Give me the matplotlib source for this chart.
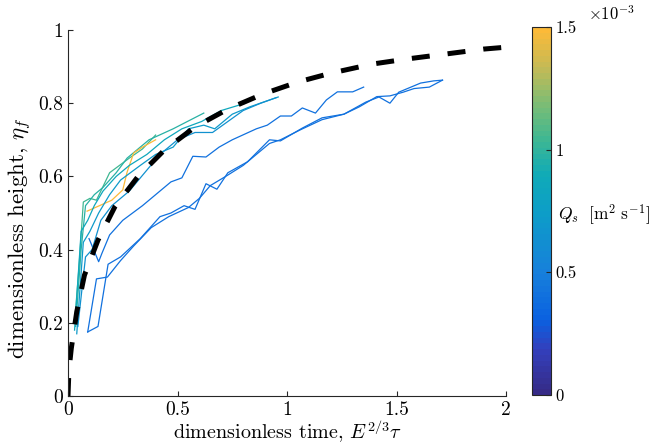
import numpy as np
import matplotlib
matplotlib.use('Agg')
import matplotlib.pyplot as plt
from matplotlib.colors import LinearSegmentedColormap, Normalize
from matplotlib.cm import ScalarMappable

plt.rcParams['font.family'] = 'serif'
plt.rcParams['font.serif'] = ['cmr10', 'DejaVu Serif']
plt.rcParams['mathtext.fontset'] = 'cm'
plt.rcParams['axes.unicode_minus'] = False

# experiments: sediment flux Qs and (tau, eta_f) traces
qs = [0.4e-3, 0.4e-3, 0.42e-3, 1.05e-3, 0.98e-3, 1.5e-3, 0.85e-3, 0.72e-3, 0.65e-3]
tau = [
    [0.09, 0.137, 0.183, 0.24, 0.33, 0.42, 0.47, 0.53, 0.58, 0.63, 0.68, 0.73, 0.82, 0.92, 0.97, 1.07, 1.16,
     1.26, 1.36, 1.42, 1.47, 1.51, 1.61, 1.67, 1.71],
    [0.09, 0.13, 0.18, 0.24, 0.30, 0.38, 0.46, 0.55, 0.60, 0.65, 0.72, 0.80, 0.86, 0.92, 0.97, 1.06, 1.16,
     1.26, 1.33, 1.41, 1.47, 1.53, 1.58, 1.65, 1.71],
    [0.096, 0.14, 0.155, 0.19, 0.25, 0.34, 0.42, 0.47, 0.52, 0.57, 0.63, 0.69, 0.75, 0.86, 0.91, 0.97, 1.02,
     1.07, 1.13, 1.18, 1.23, 1.30, 1.35],
    [0.03, 0.05, 0.07, 0.10, 0.13, 0.17, 0.19, 0.28, 0.34, 0.40],
    [0.035, 0.06, 0.08, 0.12, 0.16, 0.22, 0.27, 0.37, 0.48, 0.62],
    [0.087, 0.17, 0.20, 0.25, 0.27, 0.30, 0.34, 0.40],
    [0.03, 0.06, 0.09, 0.12, 0.16, 0.22, 0.28, 0.36, 0.44, 0.52, 0.61, 0.70, 0.81],
    [0.04, 0.07, 0.10, 0.14, 0.19, 0.24, 0.33, 0.40, 0.48, 0.55, 0.62, 0.67, 0.75, 0.83, 0.96],
    [0.045, 0.08, 0.11, 0.15, 0.20, 0.28, 0.35, 0.42, 0.50, 0.58, 0.66, 0.73, 0.80, 0.88, 0.95],
]
eta = [
    [0.175, 0.19, 0.36, 0.38, 0.43, 0.49, 0.50, 0.52, 0.51, 0.58, 0.565, 0.61, 0.64, 0.70, 0.697, 0.732, 0.76,
     0.77, 0.803, 0.817, 0.80, 0.83, 0.855, 0.861, 0.863],
    [0.175, 0.32, 0.325, 0.37, 0.41, 0.46, 0.49, 0.515, 0.54, 0.575, 0.60, 0.63, 0.66, 0.69, 0.70, 0.727, 0.755,
     0.77, 0.79, 0.818, 0.82, 0.83, 0.84, 0.844, 0.863],
    [0.43, 0.367, 0.39, 0.44, 0.48, 0.52, 0.56, 0.585, 0.596, 0.655, 0.653, 0.68, 0.70, 0.73, 0.74, 0.765, 0.765,
     0.787, 0.773, 0.809, 0.831, 0.831, 0.844],
    [0.20, 0.35, 0.53, 0.54, 0.535, 0.585, 0.61, 0.65, 0.675, 0.713],
    [0.19, 0.40, 0.52, 0.55, 0.57, 0.61, 0.65, 0.70, 0.73, 0.773],
    [0.505, 0.527, 0.535, 0.563, 0.612, 0.664, 0.68, 0.70],
    [0.18, 0.45, 0.48, 0.52, 0.56, 0.60, 0.63, 0.66, 0.70, 0.73, 0.75, 0.78, 0.80],
    [0.17, 0.42, 0.45, 0.50, 0.55, 0.59, 0.63, 0.66, 0.68, 0.73, 0.74, 0.73, 0.77, 0.79, 0.817],
    [0.19, 0.38, 0.40, 0.48, 0.52, 0.56, 0.61, 0.66, 0.70, 0.72, 0.72, 0.75, 0.78, 0.80, 0.815],
]

# theory curve
tau_th = [0.0, 0.003, 0.008, 0.015, 0.04, 0.075, 0.137, 0.214, 0.32, 0.44, 0.58, 0.73, 0.89, 1.05, 1.2,
          1.39, 1.55, 1.72, 1.9, 2.0]
eta_th = [0.0, 0.05, 0.09, 0.13, 0.23, 0.33, 0.426, 0.517, 0.60, 0.672, 0.735, 0.784, 0.825, 0.858, 0.882,
          0.907, 0.921, 0.934, 0.948, 0.953]

xticks = [0, 0.5, 1, 1.5, 2]
xticklabels = ['0', '0.5', '1', '1.5', '2']
yticks = [0, 0.2, 0.4, 0.6, 0.8, 1]
yticklabels = ['0', '0.2', '0.4', '0.6', '0.8', '1']
cticks = [0, 0.5e-3, 1e-3, 1.5e-3]
cticklabels = ['0', '0.5', '1', '1.5']

# parula-like map
pts = [(0.0, (0.21, 0.17, 0.53)), (0.12, (0.20, 0.25, 0.74)), (0.2, (0.04, 0.38, 0.88)),
       (0.33, (0.09, 0.50, 0.86)), (0.5, (0.05, 0.62, 0.78)), (0.6, (0.06, 0.67, 0.72)),
       (0.7, (0.25, 0.72, 0.57)), (0.8, (0.50, 0.74, 0.45)), (0.9, (0.78, 0.73, 0.33)),
       (1.0, (0.99, 0.73, 0.22))]
cmap = LinearSegmentedColormap.from_list('parula_ish', pts, N=64)
norm = Normalize(0, 1.5e-3)

fig = plt.figure(figsize=(6.52, 4.48), dpi=100)
ax = fig.add_axes([68/652, 1-396/448, 438/652, 366/448])
for q, t, e in zip(qs, tau, eta):
    ax.plot(t, e, color=cmap(norm(q)), lw=0.9)
ax.plot(tau_th, eta_th, color='k', lw=3.6, ls=(0, (3.6, 3.6)))

ax.set_xlim(0, 2)
ax.set_ylim(0, 1)
ax.set_xticks(xticks)
ax.set_xticklabels(xticklabels)
ax.set_yticks(yticks)
ax.set_yticklabels(yticklabels)
ax.tick_params(direction='in', length=3.5, width=0.8, labelsize=14, colors='0.15', labelcolor='k')
for s in ['top', 'right']:
    ax.spines[s].set_visible(False)
for s in ['left', 'bottom']:
    ax.spines[s].set_color('0.15')
    ax.spines[s].set_linewidth(0.8)
ax.set_xlabel(r'dimensionless time, $E^{2/3}\tau$', fontsize=14.5, labelpad=0)
ax.set_ylabel(r'dimensionless height, $\eta_f$', fontsize=16.5)
ax.yaxis.set_label_coords(-0.078, 0.43)

cax = fig.add_axes([532/652, 1-395/448, 19/652, 368/448])
cb = fig.colorbar(ScalarMappable(norm=norm, cmap=cmap), cax=cax)
cb.set_ticks(cticks)
cb.set_ticklabels(cticklabels)
cax.tick_params(direction='in', length=3.5, width=0.8, labelsize=12, colors='0.15', labelcolor='k')
cb.outline.set_linewidth(0.8)
cb.outline.set_edgecolor('0.15')
fig.text(588/652, 1-14/448, r'$\times10^{-3}$', fontsize=12, va='center', ha='left')
fig.text(558/652, 1-215/448, r'$Q_s\ \ [\mathrm{m}^2\ \mathrm{s}^{-1}]$', fontsize=12.5, va='center', ha='left')

fig.savefig('out.png', dpi=100)
